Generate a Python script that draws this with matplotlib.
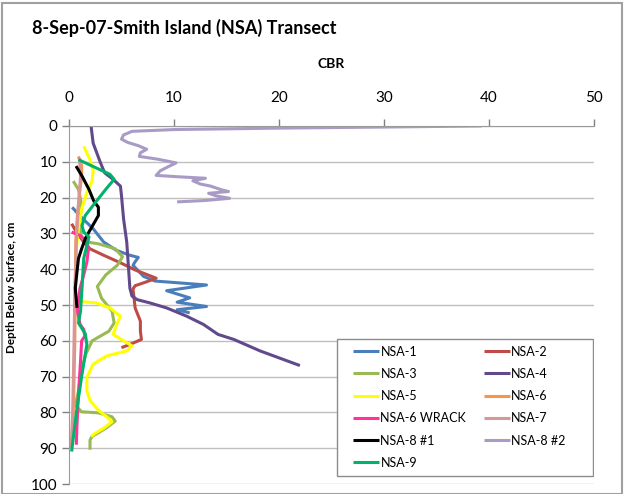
import matplotlib.pyplot as plt
from matplotlib.patches import Rectangle

plt.rcParams['font.family'] = ['Lato', 'DejaVu Sans']

# CBR values (x) against depth in cm (y)
nsa1_cbr = [0.3, 1.0, 2.3, 3.3, 4.5, 5.8, 6.6, 6.3, 6.1, 7.1, 8.2, 13.1, 9.3, 11.5, 10.3, 13.1, 10.3, 11.5]
nsa1_dep = [22.7, 25, 28.7, 32.4, 34.7, 36.1, 36.7, 37.9, 38.9, 42, 43.3, 44.4, 46, 48, 49.2, 50.4, 51.3, 52.2]

nsa2_cbr = [0.25, 0.7, 1.4, 2.0, 3.3, 4.9, 6.3, 8.3, 7.4, 6.3, 6.1, 6.3, 6.8, 6.8, 6.9, 5.8, 5.0]
nsa2_dep = [27.3, 29.6, 32.4, 34.3, 36.1, 38.2, 40.2, 42.5, 43.5, 44.6, 45.5, 50.8, 54.5, 57.3, 59.6, 61, 61.9]

nsa3_cbr = [0.4, 0.9, 1.2, 1.0, 1.2, 1.7, 2.8, 4.4, 5.1, 4.6, 3.5, 2.7, 3.1, 4.1, 4.3, 3.8, 2.2, 1.6, 1.2, 0.9, 0.6,
            1.2, 2.8, 4.1, 4.4, 3.5, 2.2, 2.0, 2.0]
nsa3_dep = [15.4, 17.7, 22, 28, 31, 32.4, 32.9, 34.3, 36.5, 38.9, 41.6, 44.8, 48.1, 51.7, 55, 57.3, 60, 63.7, 68, 74, 78,
            79.8, 80.1, 81.2, 82.4, 84.4, 86.7, 87.7, 90.4]

nsa4_cbr = [2.1, 2.3, 3.0, 3.4, 4.2, 4.9, 5.0, 5.2, 5.5, 5.8, 6.0, 6.5, 7.7, 9.3, 11.2, 12.8, 14.2, 15.7, 18.2, 22.0]
nsa4_dep = [0, 4.8, 10.3, 13.1, 14.9, 16.8, 19.5, 26, 32.4, 45.3, 47.5, 48.5, 49.4, 50.8, 53.1, 55.4, 58.2, 59.6, 62.8, 66.9]

nsa5_cbr = [1.4, 2.0, 2.3, 2.2, 1.7, 1.2, 0.9, 0.7, 0.6, 0.6, 1.05, 2.6, 3.9, 4.9, 4.55, 4.2, 5.2, 6.0, 5.5, 3.6, 2.3,
            1.7, 1.7, 2.0, 2.8, 3.6, 4.1, 3.3, 2.5, 2.1]
nsa5_dep = [5.7, 9.4, 12.6, 15.4, 18.6, 23.2, 28.7, 34.3, 41.6, 47.4, 49, 49.4, 50.8, 53.1, 55.4, 58.2, 60, 61.4, 62.8,
            64.2, 66.5, 70.2, 73.9, 76.6, 79.4, 81.2, 82.6, 84.4, 85.8, 86.7]

nsa6_cbr = [0.9, 1.2, 1.2, 1.0, 0.8, 0.65, 0.6, 0.55, 0.45, 0.35]
nsa6_dep = [8.5, 11, 14, 19, 25, 32, 45, 60, 75, 85]

wrack_cbr = [0.25, 1.05, 1.7, 1.85, 1.7, 1.4, 1.05, 0.9, 0.8, 1.05, 1.4, 1.5, 1.2, 1.1, 0.9, 0.75, 0.7]
wrack_dep = [29.6, 30.6, 32, 34.3, 38, 41.6, 45.3, 49, 51.7, 55.4, 56.8, 58.7, 60, 65.6, 74.8, 84, 89]

nsa7_cbr = [1.0, 1.1, 0.9, 0.7, 0.55, 0.45, 0.35, 0.2]
nsa7_dep = [9, 14, 22, 32, 48, 65, 80, 90]

nsa81_cbr = [0.67, 1.24, 1.9, 2.35, 2.8, 2.8, 2.35, 1.9, 1.55, 1.2, 0.9, 0.76, 0.6, 0.76]
nsa81_dep = [11.2, 14, 17.7, 20.9, 22.7, 25, 27.3, 29.6, 31.5, 34.3, 37, 40.7, 45.3, 50.8]

nsa82_cbr = [39.3, 30, 20, 10, 6, 5.2, 5.0, 5.6, 6.6, 7.4, 6.8, 6.7, 8.5, 10.2, 9.5, 8.7, 8.3, 10.5, 13.0, 11.8, 12.5,
             13.5, 14.5, 15.2, 13.3, 14.0, 15.3, 13.0, 10.3]
nsa82_dep = [0, 0.3, 0.6, 1.0, 1.5, 2.5, 3.7, 4.6, 5.5, 6.5, 7.5, 8.5, 9.3, 10.3, 11.3, 12.5, 13.8, 14.2, 14.6, 15.3, 16.2,
             16.8, 17.8, 18.3, 18.8, 19.5, 20.2, 20.8, 21.2]

nsa9_cbr = [0.9, 3.9, 4.3, 3.5, 2.5, 1.55, 1.24, 1.4, 1.9, 1.4, 1.24, 1.1, 0.9, 1.55, 1.7, 1.2, 0.7, 0.25]
nsa9_dep = [9.4, 13.5, 14.9, 17.7, 21.4, 25, 27.8, 29.6, 31, 37, 45.3, 51.7, 55, 58, 61, 70, 80, 90.9]

series = [
    ('NSA-1', nsa1_cbr, nsa1_dep, '#4A7EBB'),
    ('NSA-2', nsa2_cbr, nsa2_dep, '#BE4B48'),
    ('NSA-3', nsa3_cbr, nsa3_dep, '#98B954'),
    ('NSA-4', nsa4_cbr, nsa4_dep, '#604A8B'),
    ('NSA-5', nsa5_cbr, nsa5_dep, '#FFFF00'),
    ('NSA-6', nsa6_cbr, nsa6_dep, '#F79646'),
    ('NSA-6 WRACK', wrack_cbr, wrack_dep, '#FF3399'),
    ('NSA-7', nsa7_cbr, nsa7_dep, '#D99694'),
    ('NSA-8 #1', nsa81_cbr, nsa81_dep, '#000000'),
    ('NSA-8 #2', nsa82_cbr, nsa82_dep, '#A99BC6'),
    ('NSA-9', nsa9_cbr, nsa9_dep, '#00B26B'),
]

fig = plt.figure(figsize=(6.24, 4.94), dpi=100)
ax = fig.add_axes([0.1106, 0.02, 0.841, 0.725])

handles = {}
for name, x, y, c in series:
    h, = ax.plot(x, y, color=c, lw=2.2, label=name, solid_capstyle='butt')
    handles[name] = h

ax.set_xlim(0, 50)
ax.set_ylim(100, 0)
ax.set_xticks(range(0, 51, 10))
ax.set_yticks(range(0, 101, 10))
ax.xaxis.tick_top()
ax.xaxis.set_label_position('top')
ax.tick_params(axis='both', labelsize=11, colors='#808080', labelcolor='black', length=5, width=1)
ax.tick_params(axis='x', pad=10)
ax.grid(axis='y', color='#BFBFBF', lw=1)
ax.set_axisbelow(True)
for s in ['right', 'bottom']:
    ax.spines[s].set_visible(False)
for s in ['left', 'top']:
    ax.spines[s].set_color('#9A9A9A')

ax.set_xlabel('CBR', fontsize=10, fontweight='bold', labelpad=17)
ax.set_ylabel('Depth Below Surface, cm', fontsize=8.4, fontweight='bold')
ax.yaxis.set_label_coords(-0.099, 0.55)

# legend box drawn separately so the entries can sit as in the original
ax.add_patch(Rectangle((0.51, 0.022), 0.488, 0.384, transform=ax.transAxes,
                       facecolor='white', edgecolor='#8C8C8C', lw=1, zorder=4.9))
order = ['NSA-1', 'NSA-3', 'NSA-5', 'NSA-6 WRACK', 'NSA-8 #1', 'NSA-9',
         'NSA-2', 'NSA-4', 'NSA-6', 'NSA-7', 'NSA-8 #2']
leg = ax.legend([handles[n] for n in order], order, ncol=2, loc='upper left',
                bbox_to_anchor=(0.541, 0.387), frameon=False,
                fontsize=9, handlelength=2.1, handletextpad=0.1,
                labelspacing=0.82, columnspacing=1.4, borderpad=0, borderaxespad=0)

fig.text(0.051, 0.943, '8-Sep-07-Smith Island (NSA) Transect', fontsize=13, fontweight='bold',
         va='center', ha='left')

fig.patches.append(Rectangle((0.004, 0.0), 0.992, 0.994, transform=fig.transFigure,
                             fill=False, edgecolor='#A0A0A0', lw=1.5))

fig.savefig('out.png', dpi=100)
